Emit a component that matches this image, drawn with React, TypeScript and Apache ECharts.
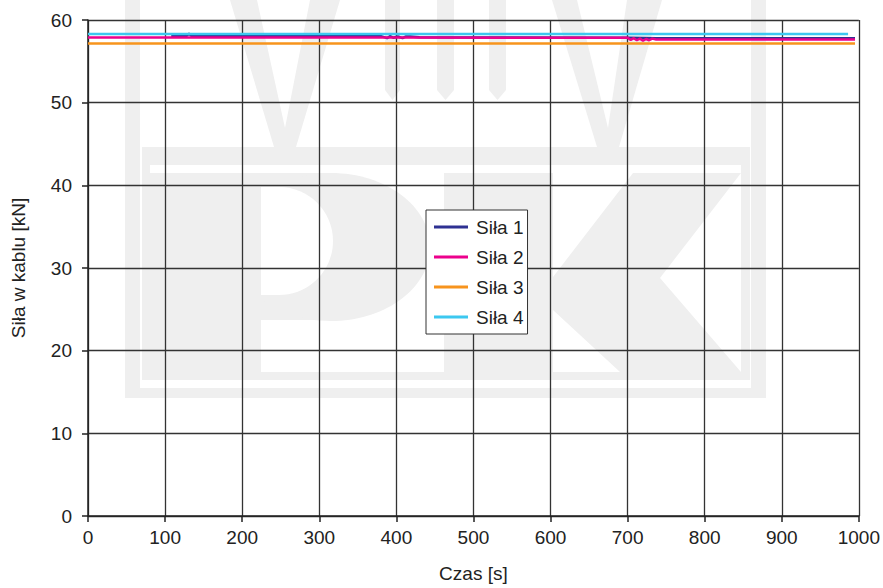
import React, { useEffect, useRef } from "react";
import * as echarts from "echarts";

const seriesNames = ["Siła 1", "Siła 2", "Siła 3", "Siła 4"];
const seriesColors = ["#2E3192", "#EC008C", "#F7941D", "#3CC8F0"];

const sila1Time = [108, 128, 131, 134, 380, 388, 392, 396, 402, 408, 412, 418, 430, 700, 737, 995];
const sila1 = [58.1, 58.1, 58.35, 58.1, 58.05, 57.8, 58.05, 57.85, 58.0, 57.8, 58.0, 58.0, 57.9, 57.85, 57.8, 57.8];

const sila2Time = [0, 400, 700, 704, 708, 712, 716, 720, 724, 728, 732, 737, 995];
const sila2 = [57.88, 57.88, 57.85, 57.6, 57.8, 57.55, 57.75, 57.5, 57.7, 57.55, 57.75, 57.65, 57.65];

const sila3Time = [0, 995];
const sila3 = [57.17, 57.17];

const sila4Time = [0, 986];
const sila4 = [58.3, 58.3];

const xTicks = [0, 1000, 100];
const yTicks = [0, 60, 10];

const WM = "#efefef";

function watermark() {
  const els: any[] = [];
  const poly = (pts: number[][]) =>
    els.push({ type: "polygon", silent: true, z: -10, shape: { points: pts }, style: { fill: WM } });
  const rect = (x: number, y: number, w: number, h: number, fill = WM) =>
    els.push({ type: "rect", silent: true, z: -10, shape: { x, y, width: w, height: h }, style: { fill } });
  // outer U frame
  rect(125, 0, 15, 398);
  rect(751, 0, 15, 398);
  rect(125, 388, 641, 10);
  // band
  rect(142, 147, 608, 18);
  // inner frame
  rect(142, 165, 8, 215);
  rect(741, 165, 9, 215);
  rect(142, 372, 608, 8);
  // left V
  poly([[230, 0], [257, 0], [285, 128], [310, 0], [340, 0], [296, 147], [274, 147]]);
  // swords
  [[385, 400], [437, 454], [489, 506]].forEach(([a, b]) =>
    poly([[a, 0], [b, 0], [b, 90], [(a + b) / 2, 100], [a, 90]])
  );
  // right V
  poly([[552, 0], [577, 0], [608, 128], [627, 0], [662, 0], [619, 147], [597, 147]]);
  // P
  rect(150, 173, 111, 199);
  rect(261, 173, 70, 147);
  els.push({ type: "ellipse", silent: true, z: -10, shape: { cx: 331, cy: 247, rx: 99, ry: 74 }, style: { fill: WM } });
  els.push({ type: "rect", silent: true, z: -9, shape: { x: 261, y: 187, width: 18, height: 108 }, style: { fill: "#ffffff" } });
  els.push({ type: "ellipse", silent: true, z: -9, shape: { cx: 279, cy: 241, rx: 54, ry: 54 }, style: { fill: "#ffffff" } });
  els.push({ type: "rect", silent: true, z: -8, shape: { x: 150, y: 173, width: 111, height: 199 }, style: { fill: WM } });
  // K
  poly([[444, 173], [553, 173], [553, 277], [633, 173], [741, 173], [660, 278], [741, 372], [620, 372], [553, 310], [553, 372], [444, 372]]);
  return els;
}

export default function App() {
  const ref = useRef<HTMLDivElement>(null);
  useEffect(() => {
    if (!ref.current) return;
    const chart = echarts.init(ref.current, undefined, { renderer: "svg" });
    const times = [sila1Time, sila2Time, sila3Time, sila4Time];
    const vals = [sila1, sila2, sila3, sila4];
    const font = "'Liberation Sans', Arial, sans-serif";
    chart.setOption({
      animation: false,
      backgroundColor: "#ffffff",
      textStyle: { fontFamily: font },
      graphic: watermark(),
      grid: { left: 88, right: 19, top: 20, bottom: 66 },
      legend: {
        orient: "vertical",
        left: 426,
        top: 210,
        data: seriesNames.map((n) => ({ name: n, icon: "rect" })),
        itemWidth: 34,
        itemHeight: 3,
        itemGap: 8,
        padding: [6, 4, 6, 8],
        borderColor: "#333",
        borderWidth: 1,
        backgroundColor: "#ffffff",
        textStyle: { fontSize: 19, color: "#222", lineHeight: 22, fontFamily: font, padding: [0, 0, 0, 3] },
      },
      xAxis: {
        type: "value",
        min: xTicks[0],
        max: xTicks[1],
        interval: xTicks[2],
        name: "Czas [s]",
        nameLocation: "middle",
        nameGap: 48,
        nameTextStyle: { fontSize: 19, color: "#222", fontFamily: font },
        axisLine: { lineStyle: { color: "#222", width: 1.5 } },
        axisTick: { show: true, length: 6, lineStyle: { color: "#222", width: 1.5 } },
        axisLabel: { fontSize: 19, color: "#222", margin: 12, fontFamily: font, formatter: (v: number) => String(v) },
        splitLine: { show: true, lineStyle: { color: "#333", width: 1.3 } },
      },
      yAxis: {
        type: "value",
        min: yTicks[0],
        max: yTicks[1],
        interval: yTicks[2],
        name: "Siła w kablu [kN]",
        nameLocation: "middle",
        nameGap: 60,
        nameTextStyle: { fontSize: 19, color: "#222", fontFamily: font },
        axisLine: { show: true, lineStyle: { color: "#222", width: 1.5 } },
        axisTick: { show: true, length: 6, lineStyle: { color: "#222", width: 1.5 } },
        axisLabel: { fontSize: 19, color: "#222", margin: 16, fontFamily: font, formatter: (v: number) => String(v) },
        splitLine: { show: true, lineStyle: { color: "#333", width: 1.3 } },
      },
      series: seriesNames.map((name, i) => ({
        name,
        type: "line",
        symbol: "none",
        color: seriesColors[i],
        lineStyle: { width: 2.5, color: seriesColors[i] },
        data: times[i].map((t, j) => [t, vals[i][j]]),
      })),
    });
    return () => chart.dispose();
  }, []);
  return (
    <div
      ref={ref}
      style={{ position: "absolute", left: 0, top: 0, width: 883, height: 588 }}
    />
  );
}
